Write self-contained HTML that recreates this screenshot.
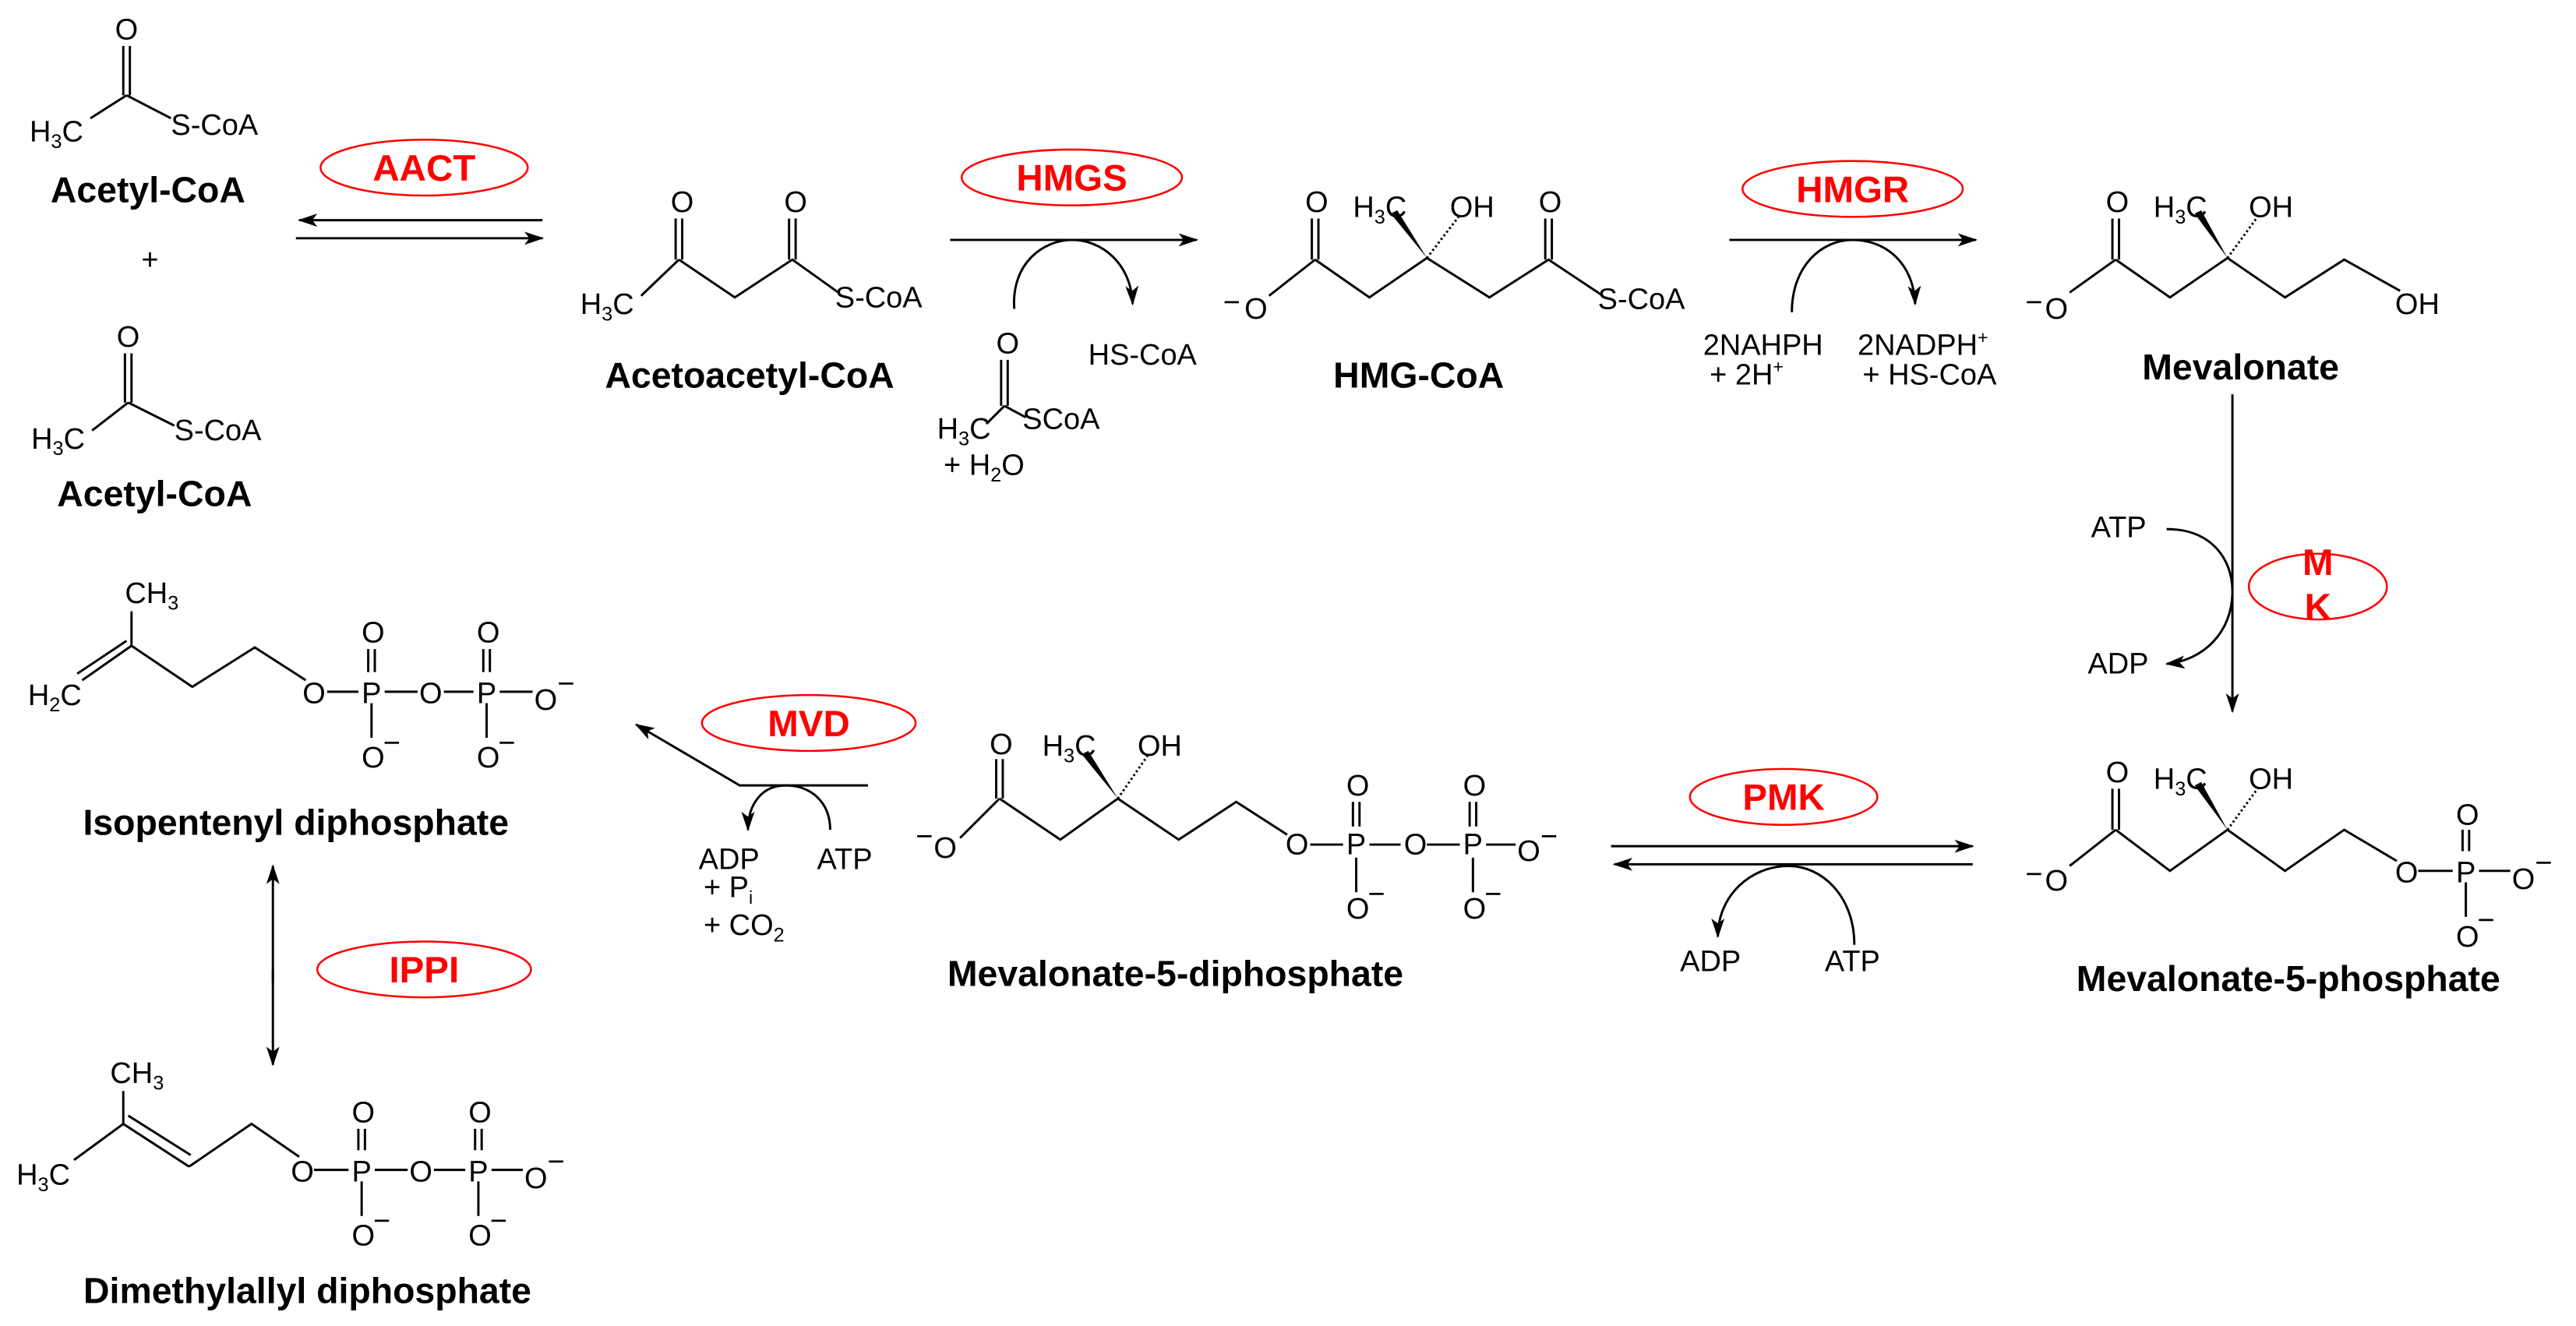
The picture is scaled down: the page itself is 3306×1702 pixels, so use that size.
<!DOCTYPE html>
<html><head><meta charset="utf-8"><style>
html,body{margin:0;padding:0;background:#fff;}
svg{display:block;}
text{font-family:"Liberation Sans",sans-serif;fill:#000;}
.a{font-size:18px;}
.b{font-size:22px;font-weight:bold;text-anchor:middle;}
.e{font-size:22.5px;font-weight:bold;fill:#f00;text-anchor:middle;}
.l{stroke:#000;stroke-width:1.4;fill:none;}
.el{stroke:#f00;stroke-width:1.2;fill:none;}
</style></head><body>
<svg width="3306" height="1702" viewBox="0 0 1567 807" preserveAspectRatio="none" xmlns="http://www.w3.org/2000/svg">
<defs>
<marker id="ar" markerWidth="12" markerHeight="8" refX="11" refY="4" orient="auto" markerUnits="userSpaceOnUse"><path d="M0,0 L12,4 L0,8 L3,4z" fill="#000"/></marker>
</defs>

<!-- Acetyl-CoA top -->
<text class="a" x="70" y="24">O</text>
<path class="l" d="M75,28 V58 M79,28 V58 M77,58 L55,72 M77,58 L104,72"/>
<text class="a" x="18" y="86">H<tspan font-size="12" dy="4">3</tspan><tspan dy="-4">C</tspan></text>
<text class="a" x="104" y="82">S-CoA</text>
<text class="b" x="90" y="123">Acetyl-CoA</text>
<text class="a" x="86" y="164" font-size="15">+</text>
<!-- Acetyl-CoA bottom -->
<text class="a" x="71" y="211">O</text>
<path class="l" d="M76,215 V245 M80,215 V245 M78,245 L56,262 M78,245 L106,259"/>
<text class="a" x="19" y="273">H<tspan font-size="12" dy="4">3</tspan><tspan dy="-4">C</tspan></text>
<text class="a" x="106" y="268">S-CoA</text>
<text class="b" x="94" y="308">Acetyl-CoA</text>

<!-- AACT -->
<ellipse class="el" cx="258" cy="102" rx="63" ry="17"/>
<text class="e" x="258" y="110">AACT</text>
<line class="l" x1="330" y1="134" x2="182" y2="134" marker-end="url(#ar)"/>
<line class="l" x1="180" y1="145" x2="330" y2="145" marker-end="url(#ar)"/>

<!-- Acetoacetyl-CoA -->
<text class="a" x="408" y="129">O</text>
<text class="a" x="477" y="129">O</text>
<path class="l" d="M411,133 V158 M415,133 V158 M480,133 V158 M484,133 V158 M413,158 L390,180 M413,158 L447,181 L482,158 L510,178"/>
<text class="a" x="353" y="191">H<tspan font-size="12" dy="4">3</tspan><tspan dy="-4">C</tspan></text>
<text class="a" x="508" y="187">S-CoA</text>
<text class="b" x="456" y="236">Acetoacetyl-CoA</text>

<!-- HMGS -->
<ellipse class="el" cx="652" cy="108" rx="67" ry="17"/>
<text class="e" x="652" y="116">HMGS</text>
<line class="l" x1="578" y1="146" x2="728" y2="146" marker-end="url(#ar)"/>
<path class="l" d="M617,188 C615,160 635,146 652,146 C670,146 688,160 689,185" marker-end="url(#ar)"/>
<text class="a" x="662" y="222">HS-CoA</text>
<text class="a" x="606" y="215">O</text>
<path class="l" d="M609,219 V247 M613,219 V247 M611,247 L600,258 M611,247 L624,254"/>
<text class="a" x="570" y="267">H<tspan font-size="12" dy="4">3</tspan><tspan dy="-4">C</tspan></text>
<text class="a" x="622" y="261" font-size="15">SCoA</text>
<text class="a" x="574" y="289">+  H<tspan font-size="12" dy="4">2</tspan><tspan dy="-4">O</tspan></text>

<!-- HMG-CoA -->
<text class="a" x="794" y="129">O</text>
<text class="a" x="936" y="129">O</text>
<path class="l" d="M798,133 V158 M802,133 V158 M940,133 V158 M944,133 V158 M800,158 L772,180 M800,158 L833,181 L868,157 L906,181 L942,158 L975,180"/>
<path d="M868,157 L846,130 L850,128z" fill="#000"/>
<path class="l" stroke-dasharray="1.2,1.6" stroke-width="3" d="M868,157 L888,131"/>
<text class="a" x="823" y="132">H<tspan font-size="12" dy="4">3</tspan><tspan dy="-4">C</tspan></text>
<text class="a" x="882" y="132">OH</text>
<text class="a" x="744" y="190" font-size="14">−</text>
<text class="a" x="757" y="194">O</text>
<text class="a" x="972" y="188">S-CoA</text>
<text class="b" x="863" y="236">HMG-CoA</text>

<!-- HMGR -->
<ellipse class="el" cx="1127" cy="115" rx="67" ry="17"/>
<text class="e" x="1127" y="123">HMGR</text>
<line class="l" x1="1052" y1="146" x2="1202" y2="146" marker-end="url(#ar)"/>
<path class="l" d="M1090,190 C1090,162 1108,146 1127,146 C1147,146 1164,160 1165,185" marker-end="url(#ar)"/>
<text class="a" x="1036" y="216">2NAHPH</text>
<text class="a" x="1040" y="234">+  2H<tspan font-size="11" dy="-7">+</tspan></text>
<text class="a" x="1130" y="216">2NADPH<tspan font-size="11" dy="-7">+</tspan></text>
<text class="a" x="1133" y="234">+  HS-CoA</text>

<!-- Mevalonate -->
<text class="a" x="1281" y="129">O</text>
<path class="l" d="M1285,133 V158 M1289,133 V158 M1287,158 L1259,178 M1287,158 L1320,181 L1355,157 L1390,181 L1426,158 L1460,177"/>
<path d="M1355,157 L1335,130 L1339,128z" fill="#000"/>
<path class="l" stroke-dasharray="1.2,1.6" stroke-width="3" d="M1355,157 L1374,131"/>
<text class="a" x="1310" y="132">H<tspan font-size="12" dy="4">3</tspan><tspan dy="-4">C</tspan></text>
<text class="a" x="1368" y="132">OH</text>
<text class="a" x="1232" y="190" font-size="14">−</text>
<text class="a" x="1244" y="194">O</text>
<text class="a" x="1457" y="191">OH</text>
<text class="b" x="1363" y="231">Mevalonate</text>

<!-- MK -->
<line class="l" x1="1358" y1="240" x2="1358" y2="433" marker-end="url(#ar)"/>
<ellipse class="el" cx="1410" cy="357" rx="42" ry="20"/>
<text class="e" x="1410" y="350">M</text>
<text class="e" x="1410" y="377">K</text>
<text class="a" x="1272" y="327">ATP</text>
<text class="a" x="1270" y="410">ADP</text>
<path class="l" d="M1318,322 C1345,322 1358,340 1358,360 C1358,385 1340,402 1318,404" marker-end="url(#ar)"/>

<!-- Mevalonate-5-phosphate -->
<text class="a" x="1281" y="476">O</text>
<path class="l" d="M1285,480 V505 M1289,480 V505 M1287,505 L1259,527 M1287,505 L1320,530 L1355,505 L1390,530 L1426,505 L1458,524"/>
<path d="M1355,505 L1335,478 L1339,476z" fill="#000"/>
<path class="l" stroke-dasharray="1.2,1.6" stroke-width="3" d="M1355,505 L1374,479"/>
<text class="a" x="1310" y="480">H<tspan font-size="12" dy="4">3</tspan><tspan dy="-4">C</tspan></text>
<text class="a" x="1368" y="480">OH</text>
<text class="a" x="1232" y="538" font-size="14">−</text>
<text class="a" x="1244" y="542">O</text>
<text class="a" x="1457" y="537">O</text>
<text class="a" x="1494" y="537">P</text>
<text class="a" x="1494" y="502">O</text>
<text class="a" x="1494" y="576">O</text><text class="a" x="1507" y="566" font-size="13">−</text>
<text class="a" x="1528" y="541">O</text><text class="a" x="1542" y="531" font-size="13">−</text>
<path class="l" d="M1471,530 H1492 M1508,530 H1527 M1498,505 V518 M1502,505 V518 M1500,537 V558"/>
<text class="b" x="1392" y="603">Mevalonate-5-phosphate</text>

<!-- PMK -->
<ellipse class="el" cx="1085" cy="485" rx="57" ry="17"/>
<text class="e" x="1085" y="493">PMK</text>
<line class="l" x1="980" y1="515" x2="1200" y2="515" marker-end="url(#ar)"/>
<line class="l" x1="1200" y1="526" x2="982" y2="526" marker-end="url(#ar)"/>
<path class="l" d="M1128,575 C1128,545 1108,527 1088,527 C1065,527 1045,545 1045,570" marker-end="url(#ar)"/>
<text class="a" x="1022" y="591">ADP</text>
<text class="a" x="1110" y="591">ATP</text>

<!-- Mevalonate-5-diphosphate -->
<text class="a" x="602" y="459">O</text>
<path class="l" d="M606,462 V486 M610,462 V486 M608,486 L584,510 M608,486 L645,511 L680,486 L717,511 L752,488 L783,508"/>
<path d="M680,486 L658,459 L662,457z" fill="#000"/>
<path class="l" stroke-dasharray="1.2,1.6" stroke-width="3" d="M680,486 L698,460"/>
<text class="a" x="634" y="460">H<tspan font-size="12" dy="4">3</tspan><tspan dy="-4">C</tspan></text>
<text class="a" x="692" y="460">OH</text>
<text class="a" x="557" y="515" font-size="14">−</text>
<text class="a" x="568" y="522">O</text>
<text class="a" x="782" y="520">O</text>
<text class="a" x="819" y="520">P</text>
<text class="a" x="854" y="520">O</text>
<text class="a" x="890" y="520">P</text>
<text class="a" x="923" y="524">O</text><text class="a" x="937" y="515" font-size="13">−</text>
<text class="a" x="819" y="484">O</text><text class="a" x="890" y="484">O</text>
<text class="a" x="819" y="559">O</text><text class="a" x="832" y="550" font-size="13">−</text>
<text class="a" x="890" y="559">O</text><text class="a" x="903" y="550" font-size="13">−</text>
<path class="l" d="M797,514 H817 M833,514 H852 M868,514 H888 M904,514 H922 M823,488 V503 M827,488 V503 M894,488 V503 M898,488 V503 M825,522 V543 M896,522 V543"/>
<text class="b" x="715" y="600">Mevalonate-5-diphosphate</text>

<!-- MVD -->
<ellipse class="el" cx="492" cy="440" rx="65" ry="17"/>
<text class="e" x="492" y="448">MVD</text>
<path class="l" d="M528,478 H450 L387,441" marker-end="url(#ar)"/>
<path class="l" d="M505,505 C505,488 493,478 478,478 C463,478 455,490 455,505" marker-end="url(#ar)"/>
<text class="a" x="425" y="529">ADP</text>
<text class="a" x="497" y="529">ATP</text>
<text class="a" x="428" y="546">+  P<tspan font-size="11" dy="4">i</tspan></text>
<text class="a" x="428" y="569">+  CO<tspan font-size="12" dy="4">2</tspan></text>

<!-- Isopentenyl diphosphate -->
<text class="a" x="76" y="367">CH<tspan font-size="12" dy="4">3</tspan></text>
<path class="l" d="M80,372 V393 M80,393 L50,414 M77,390 L47,410 M80,393 L117,418 L155,394 L186,414"/>
<text class="a" x="17" y="429">H<tspan font-size="12" dy="4">2</tspan><tspan dy="-4">C</tspan></text>
<text class="a" x="184" y="428">O</text>
<text class="a" x="220" y="428">P</text>
<text class="a" x="255" y="428">O</text>
<text class="a" x="290" y="428">P</text>
<text class="a" x="325" y="432">O</text><text class="a" x="339" y="422" font-size="13">−</text>
<text class="a" x="220" y="391">O</text><text class="a" x="290" y="391">O</text>
<text class="a" x="220" y="467">O</text><text class="a" x="233" y="458" font-size="13">−</text>
<text class="a" x="290" y="467">O</text><text class="a" x="303" y="458" font-size="13">−</text>
<path class="l" d="M199,421 H218 M234,421 H254 M270,421 H288 M304,421 H324 M224,395 V409 M228,395 V409 M294,395 V409 M298,395 V409 M226,428 V449 M296,428 V449"/>
<text class="b" x="180" y="508">Isopentenyl diphosphate</text>

<!-- IPPI -->
<line class="l" x1="166" y1="598" x2="166" y2="527" marker-end="url(#ar)"/>
<line class="l" x1="166" y1="590" x2="166" y2="648" marker-end="url(#ar)"/>
<ellipse class="el" cx="258" cy="590" rx="65" ry="17"/>
<text class="e" x="258" y="598">IPPI</text>

<!-- DMAPP -->
<text class="a" x="67" y="659">CH<tspan font-size="12" dy="4">3</tspan></text>
<path class="l" d="M75,664 V684 M75,684 L45,706 M75,684 L115,710 M78,679 L116,703 M115,710 L153,684 L182,704"/>
<text class="a" x="10" y="721">H<tspan font-size="12" dy="4">3</tspan><tspan dy="-4">C</tspan></text>
<text class="a" x="177" y="719">O</text>
<text class="a" x="214" y="719">P</text>
<text class="a" x="249" y="719">O</text>
<text class="a" x="285" y="719">P</text>
<text class="a" x="319" y="723">O</text><text class="a" x="333" y="713" font-size="13">−</text>
<text class="a" x="214" y="683">O</text><text class="a" x="285" y="683">O</text>
<text class="a" x="214" y="758">O</text><text class="a" x="227" y="749" font-size="13">−</text>
<text class="a" x="285" y="758">O</text><text class="a" x="298" y="749" font-size="13">−</text>
<path class="l" d="M191,712 H212 M228,712 H248 M264,712 H283 M299,712 H318 M218,687 V700 M222,687 V700 M289,687 V700 M293,687 V700 M220,719 V740 M291,719 V740"/>
<text class="b" x="187" y="793">Dimethylallyl diphosphate</text>
</svg>
</body></html>
